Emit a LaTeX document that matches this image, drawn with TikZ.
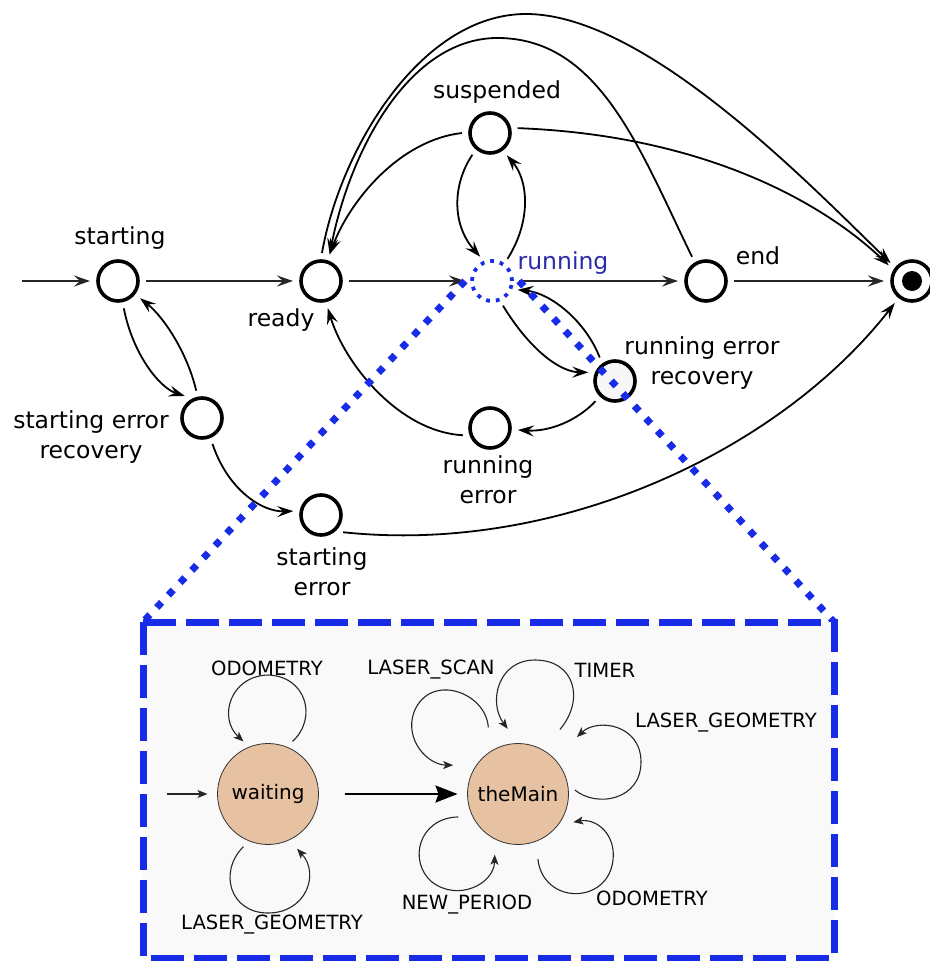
\documentclass[tikz,border=0pt]{standalone}
\usepackage{fontspec}
\setmainfont{DejaVu Sans}
\usetikzlibrary{arrows.meta,calc}
\definecolor{zoomblue}{RGB}{24,44,232}
\definecolor{runtext}{RGB}{42,42,170}
\definecolor{statefill}{RGB}{230,194,162}
\definecolor{boxfill}{RGB}{249,249,249}
\begin{document}
\begin{tikzpicture}[x=1pt,y=-1pt,
  state/.style={circle,draw=black,line width=3.6pt,fill=white,minimum size=40pt,inner sep=0pt,outer sep=8pt},
  edge/.style={line width=1.8pt,-{Stealth[length=16pt,width=11pt,inset=6pt]}},
  straight/.style={edge,line width=2.6pt,draw=black!85},
  lbl/.style={font=\fontsize{23.5}{30}\selectfont,align=center,inner sep=0pt},
  sub/.style={circle,draw=black!80,line width=0.8pt,fill=statefill,minimum size=101pt,inner sep=0pt,outer sep=10pt,font=\fontsize{20}{24}\selectfont},
  selfloop/.style={line width=1.1pt,draw=black!85,-{Stealth[length=10pt,width=8pt,inset=2.5pt]}},
  evt/.style={font=\fontsize{19.6}{24}\selectfont,inner sep=0pt},
  zoomline/.style={draw=zoomblue,line width=7pt,dash pattern=on 7pt off 10pt},
]
\useasboundingbox (0,0) rectangle (929,961);

% ---------- process states ----------
\coordinate (entry) at (22,281);
\node[state] (starting) at (118,281) {};
\node[state] (ready) at (321,281) {};
\node[circle,minimum size=40pt,inner sep=0pt,outer sep=7pt] (running) at (492,281) {};
\node[state] (suspended) at (490,133) {};
\node[state] (end) at (706,281) {};
\node[state] (final) at (912,281) {};
\fill (final.center) circle (10pt);
\node[state] (ser) at (202,418) {};
\node[state] (serr) at (321,515) {};
\node[state] (rerr) at (490,428) {};
\node[state,fill=black!3] (rer) at (615,381) {};

% ---------- transitions ----------
\draw[straight] (entry) -- (starting);
\draw[straight] (starting) -- (ready);
\draw[straight] (ready) -- (running);
\draw[straight] (running) -- (end);
\draw[straight] (end) -- (final);

\draw[edge] (starting.-78) .. controls (133,355) and (160,388) .. (ser.128);
\draw[edge] (ser.102) .. controls (188,355) and (165,318) .. (starting.-38);
\draw[edge] (ser.-68) .. controls (228,490) and (262,512) .. (serr.172);
\draw[edge] (serr.-38) .. controls (560,555) and (780,450) .. (final.-128);

\draw[edge] (rerr.195) .. controls (400,432) and (345,365) .. (ready.-76);
\draw[edge] (running.-66) .. controls (530,350) and (560,372) .. (rer.162);
\draw[edge] (rer.123) .. controls (585,320) and (550,293) .. (running.-19);
\draw[edge] (rer.-134) .. controls (578,420) and (550,432) .. (rerr.-4);

\draw[edge] (running.55) .. controls (532,220) and (528,180) .. (suspended.-53);
\draw[edge] (suspended.-129) .. controls (452,185) and (452,225) .. (running.116);
\draw[edge] (suspended.180) .. controls (400,140) and (350,200) .. (ready.72);
\draw[edge] (suspended.10) .. controls (700,135) and (820,200) .. (final.146);

\draw[edge] (ready.88) .. controls (340,150) and (420,15) .. (525,14)
  .. controls (645,13) and (810,185) .. (final.140);
\draw[edge] (end.120) .. controls (640,150) and (600,40) .. (500,38)
  .. controls (410,36) and (350,150) .. (ready.72);

% ---------- state names ----------
\node[lbl] (tstarting) at (120,238) {starting};
\node[lbl] (tready) at (281,320) {ready};
\node[lbl] (tsuspended) at (497,92) {suspended};
\node[lbl,text=runtext] (trunning) at (563,263) {running};
\node[lbl] (tend) at (758,256) {end};
\node[lbl] (trer) at (702,363) {running error\\recovery};
\node[lbl] (tser) at (91,437) {starting error\\recovery};
\node[lbl] (trerr) at (488,480) {running\\error};
\node[lbl] (tserr) at (322,572) {starting\\error};

% ---------- zoom into the running state ----------
\coordinate (boxTL) at (143,622);
\coordinate (boxTR) at (834,622);
\coordinate (boxBR) at (834,958);
\draw[zoomline] (running.180) -- (boxTL);
\draw[zoomline] (running.0) -- (boxTR);
\draw[zoomblue,line width=3.8pt,dash pattern=on 3.8pt off 6pt] (running.center) circle (20pt);

\draw[zoomblue,line width=7pt,dash pattern=on 33pt off 10pt,fill=boxfill] (boxTL) rectangle (boxBR);

% ---------- inner state machine ----------
\node[sub] (waiting) at (268,794) {waiting};
\node[sub] (theMain) at (518,794) {theMain};
\coordinate (subentry) at (167,794);
\draw[selfloop] (subentry) -- (waiting);
\draw[line width=2.4pt,-{Stealth[length=22pt,width=17pt,inset=3pt]},shorten <=16pt] (waiting) -- (theMain);

\draw[selfloop] ($(waiting)+(65:58pt)$) .. controls (318,718) and (306,676) .. (268,675)
  .. controls (230,676) and (218,718) .. ($(waiting)+(115:58pt)$);
\draw[selfloop] ($(waiting)+(245:58pt)$) .. controls (218,872) and (230,913) .. (268,913)
  .. controls (306,913) and (320,874) .. ($(waiting)+(298:62pt)$);

\draw[selfloop] ($(theMain)+(114:73pt)$) .. controls (486,692) and (430,672) .. (414,712)
  .. controls (404,740) and (428,765) .. ($(theMain)+(156:71pt)$);
\draw[selfloop] ($(theMain)+(57:77pt)$) .. controls (585,700) and (575,660) .. (535,660)
  .. controls (498,660) and (488,702) .. ($(theMain)+(99:66pt)$);
\draw[selfloop] ($(theMain)+(4:57pt)$) .. controls (597,808) and (641,800) .. (641,762)
  .. controls (641,724) and (597,718) .. ($(theMain)+(44:82pt)$);
\draw[selfloop] ($(theMain)+(-73:68pt)$) .. controls (543,905) and (608,905) .. (613,860)
  .. controls (616,835) and (597,818) .. ($(theMain)+(-27:62pt)$);
\draw[selfloop] ($(theMain)+(201:64pt)$) .. controls (418,818) and (408,862) .. (432,882)
  .. controls (458,902) and (494,884) .. ($(theMain)+(249:65pt)$);

\node[evt] (ewodo) at (267,668) {ODOMETRY};
\node[evt] (ewgeo) at (272,925) {LASER\_GEOMETRY};
\node[evt] (escan) at (431,670) {LASER\_SCAN};
\node[evt] (etimer) at (605,670) {TIMER};
\node[evt] (egeo) at (726,723) {LASER\_GEOMETRY};
\node[evt] (eodo) at (652,898) {ODOMETRY};
\node[evt] (eperiod) at (467,905) {NEW\_PERIOD};
\end{tikzpicture}
\end{document}
